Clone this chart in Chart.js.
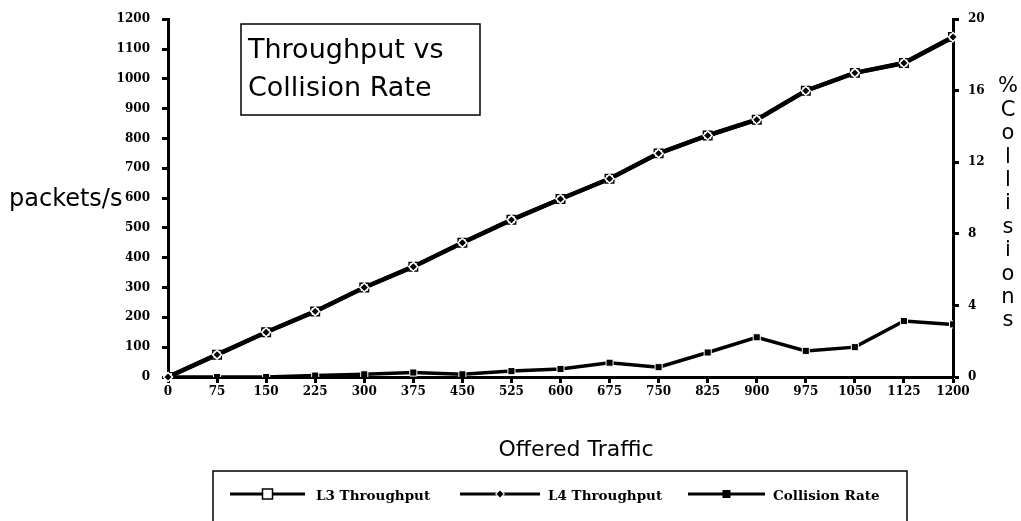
<!DOCTYPE html>
<html>
<head>
<meta charset="utf-8">
<script src="https://cdn.jsdelivr.net/npm/chart.js@4"></script>
<style>
  body { margin: 0; background: #fff; }
  #wrap { width: 1021px; height: 521px; }
</style>
</head>
<body>
<div id="wrap"><canvas id="myChart" width="1021" height="521"></canvas></div>
<script>
const ctx = document.getElementById("myChart");

const offered = [0, 75, 150, 225, 300, 375, 450, 525, 600, 675, 750, 825, 900, 975, 1050, 1125, 1200];
const l3Throughput = [0, 75, 150, 220, 300, 370, 450, 527, 597, 665, 750, 810, 863, 960, 1020, 1053, 1140];
const l4Throughput = [0, 75, 150, 220, 300, 370, 450, 527, 597, 665, 750, 810, 863, 960, 1020, 1053, 1140];
const collisionRate = [0, 0, 0, 0.08, 0.15, 0.25, 0.15, 0.33, 0.45, 0.8, 0.55, 1.37, 2.22, 1.46, 1.67, 3.13, 2.94];
const titleLines = ["Throughput vs", "Collision Rate"];
const leftTitle = "packets/s";
const rightTitle = "%Collisions";
const xTitle = "Offered Traffic";

Chart.defaults.font.family = "DejaVu Serif";
Chart.defaults.font.weight = "bold";
Chart.defaults.font.size = 12;
Chart.defaults.color = "#000";

function pairs(ys) {
  return offered.map((x, i) => ({ x: x, y: ys[i] }));
}

function plain(value) {
  return String(value);
}

// draws the boxed title, axis titles and the boxed legend
const extras = {
  id: "extras",
  afterDatasetsDraw(chart) {
    // diamonds of L4 over the L3 squares
    chart.getDatasetMeta(1).data.forEach((p) => p.draw(chart.ctx));
  },
  afterDraw(chart) {
    const c = chart.ctx;
    c.save();
    c.fillStyle = "#000";
    c.strokeStyle = "#000";

    // title box
    c.lineWidth = 1.5;
    c.strokeRect(241, 24, 239, 91);
    c.font = "27px 'DejaVu Sans'";
    c.textBaseline = "alphabetic";
    c.textAlign = "left";
    c.fillText(titleLines[0], 248, 58);
    c.fillText(titleLines[1], 248, 96);

    // left title, horizontal
    c.font = "24px 'DejaVu Sans'";
    c.fillText(leftTitle, 9, 206);

    // right title, one letter per row
    c.font = "21px 'DejaVu Sans'";
    c.textAlign = "center";
    c.textBaseline = "middle";
    for (let i = 0; i < rightTitle.length; i++) {
      c.fillText(rightTitle[i], 1008, 87 + i * 23.4);
    }

    // x title
    c.font = "22px 'DejaVu Sans'";
    c.textBaseline = "alphabetic";
    c.fillText(xTitle, 576, 456);

    // legend
    c.lineWidth = 1.5;
    c.strokeRect(213, 471, 694, 70);
    const items = [
      { x1: 230, x2: 305, tx: 316, ds: 0 },
      { x1: 460, x2: 540, tx: 548, ds: 1 },
      { x1: 688, x2: 765, tx: 773, ds: 2 },
    ];
    const ly = 494;
    c.font = "bold 13.5px 'DejaVu Serif'";
    c.textAlign = "left";
    c.textBaseline = "middle";
    items.forEach((it) => {
      const ds = chart.data.datasets[it.ds];
      c.lineWidth = 3;
      c.beginPath();
      c.moveTo(it.x1, ly);
      c.lineTo(it.x2, ly);
      c.stroke();
      const mx = (it.x1 + it.x2) / 2;
      if (it.ds === 0) {
        c.fillStyle = "#fff";
        c.fillRect(mx - 5, ly - 5, 10, 10);
        c.lineWidth = 1.5;
        c.strokeRect(mx - 5, ly - 5, 10, 10);
      } else if (it.ds === 1) {
        c.fillStyle = "#fff";
        c.beginPath();
        c.moveTo(mx, ly - 5); c.lineTo(mx + 5, ly); c.lineTo(mx, ly + 5); c.lineTo(mx - 5, ly);
        c.closePath();
        c.fill();
        c.fillStyle = "#000";
        c.beginPath();
        c.moveTo(mx, ly - 3.5); c.lineTo(mx + 3.5, ly); c.lineTo(mx, ly + 3.5); c.lineTo(mx - 3.5, ly);
        c.closePath();
        c.fill();
      } else {
        c.fillStyle = "#000";
        c.fillRect(mx - 4, ly - 4, 8, 8);
      }
      c.fillStyle = "#000";
      c.fillText(ds.label, it.tx, ly + 2);
    });
    c.restore();
  },
};

const chart = new Chart(ctx, {
  type: "line",
  data: {
    datasets: [
      {
        label: "L3 Throughput",
        data: pairs(l3Throughput),
        yAxisID: "y",
        borderColor: "#000",
        borderWidth: 4.5,
        pointStyle: "rect",
        pointRadius: 6,
        pointBackgroundColor: "#fff",
        pointBorderColor: "#000",
        pointBorderWidth: 1.5,
        order: 2,
      },
      {
        label: "L4 Throughput",
        data: pairs(l4Throughput),
        yAxisID: "y",
        borderColor: "#000",
        borderWidth: 4,
        pointStyle: "rectRot",
        pointRadius: 4.5,
        pointBackgroundColor: "#000",
        pointBorderColor: "#fff",
        pointBorderWidth: 1.5,
        order: 3,
      },
      {
        label: "Collision Rate",
        data: pairs(collisionRate),
        yAxisID: "y1",
        borderColor: "#000",
        borderWidth: 3.5,
        pointStyle: "rect",
        pointRadius: 5,
        pointBackgroundColor: "#000",
        pointBorderColor: "#fff",
        pointBorderWidth: 1,
        order: 1,
      },
    ],
  },
  options: {
    responsive: false,
    animation: false,
    layout: { padding: { left: 0, right: 0, top: 17, bottom: 114 } },
    plugins: {
      legend: { display: false },
      title: { display: false },
      tooltip: { enabled: false },
    },
    elements: { line: { tension: 0 } },
    scales: {
      x: {
        type: "linear",
        min: 0,
        max: 1200,
        afterFit: (s) => { s.height = 30; },
        border: { color: "#000", width: 3 },
        grid: { drawOnChartArea: false, color: "#000", tickLength: 6, tickWidth: 3 },
        ticks: {
          stepSize: 75,
          autoSkip: false,
          maxRotation: 0,
          padding: 2,
          callback: plain,
        },
      },
      y: {
        position: "left",
        min: 0,
        max: 1200,
        afterFit: (s) => { s.width = 168; },
        border: { color: "#000", width: 3 },
        grid: { drawOnChartArea: false, color: "#000", tickLength: 6, tickWidth: 3 },
        ticks: { stepSize: 100, padding: 12, callback: plain },
      },
      y1: {
        position: "right",
        min: 0,
        max: 20,
        afterFit: (s) => { s.width = 68; },
        border: { color: "#000", width: 3 },
        grid: { drawOnChartArea: false, color: "#000", tickLength: 6, tickWidth: 3 },
        ticks: { stepSize: 4, padding: 9, callback: plain },
      },
    },
  },
  plugins: [extras],
});
</script>
</body>
</html>
